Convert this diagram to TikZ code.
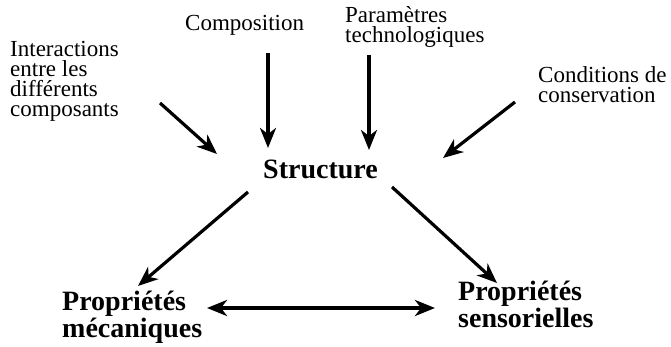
\documentclass[tikz,border=0pt]{standalone}
\usepackage{fontspec}
\setmainfont{Liberation Serif}
\usetikzlibrary{arrows.meta}
\begin{document}
\begin{tikzpicture}[x=1pt,y=-1pt,
  lbl/.style={inner sep=0pt,anchor=base west,align=left,font=\fontsize{23}{20}\selectfont},
  blbl/.style={inner sep=0pt,anchor=base west,align=left,font=\fontsize{28}{23}\selectfont\bfseries},
  arr/.style={line width=3.2pt,-{Stealth[length=20pt,width=16pt,inset=6pt]}},
  darr/.style={line width=4pt,{Stealth[length=20pt,width=16pt,inset=6pt]}-{Stealth[length=20pt,width=16pt,inset=6pt]}}]
\useasboundingbox (0,0) rectangle (671,347);
% texts (base anchor = baseline of the last line)
\node[lbl] (inter) at (10,117) {Interactions\\entre les\\différents\\composants};
\node[lbl] (compo) at (185,31) {Composition};
\node[lbl] (param) at (345,43) {Paramètres\\technologiques};
\node[lbl] (cond) at (538,103) {Conditions de\\conservation};
\node[blbl] (struct) at (263,179) {Structure};
\node[blbl] (meca) at (62,337) {Propriétés\\mécaniques};
\node[blbl] (sens) at (458,327) {Propriétés\\sensorielles};
% arrow end points
\coordinate (i1) at (160,103); \coordinate (i2) at (217,154);
\coordinate (c1) at (268,53);  \coordinate (c2) at (268,148);
\coordinate (p1) at (369,55);  \coordinate (p2) at (369,150);
\coordinate (k1) at (515,102); \coordinate (k2) at (443,158);
\coordinate (s1) at (248,192); \coordinate (s2) at (138,286);
\coordinate (r1) at (392,187); \coordinate (r2) at (497,283);
\coordinate (d1) at (207,308); \coordinate (d2) at (435,308);
\draw[arr] (i1) -- (i2);
\draw[arr] (c1) -- (c2);
\draw[arr] (p1) -- (p2);
\draw[arr] (k1) -- (k2);
\draw[arr] (s1) -- (s2);
\draw[arr] (r1) -- (r2);
\draw[darr] (d1) -- (d2);
\end{tikzpicture}
\end{document}
